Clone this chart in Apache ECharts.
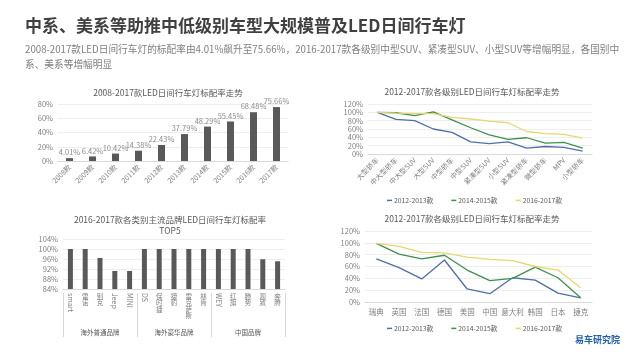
<!DOCTYPE html>
<html><head><meta charset="utf-8">
<script src="https://cdn.jsdelivr.net/npm/echarts@6/dist/echarts.min.js"></script>
<style>html,body{margin:0;padding:0;background:#fff}#c{width:630px;height:354px}</style>
</head><body><div id="c"></div>
<script>
var years1 = ['2008款','2009款','2010款','2011款','2012款','2013款','2014款','2015款','2016款','2017款'];
var rate1 = [4.01, 6.42, 10.42, 14.38, 22.43, 37.79, 48.29, 55.45, 68.48, 75.66];

var classes2 = ['大型轿车','中大型轿车','中大型SUV','大型SUV','中型轿车','中型SUV','紧凑型SUV','小型SUV','紧凑型轿车','微型轿车','MPV','小型轿车'];
var cls1213 = [100, 83, 80, 60, 52, 29, 25, 29, 14, 18, 16, 7];
var cls1415 = [100, 99, 92, 101, 82, 63, 46, 35, 39, 26, 28, 14];
var cls1617 = [100, 98, 97, 97, 88, 84, 79, 75, 54, 49, 47, 38];

var brands3 = ['smart','雷诺','别克','Jeep','MINI','DS','保时捷','捷豹','雷克萨斯','林肯','WEY','红旗','腾势','观致','奔腾'];
var brandRate3 = [100, 100, 96.4, 91.2, 91.2, 100, 100, 100, 100, 100, 100, 100, 100, 95.9, 95.1];
var groups3 = ['海外普通品牌','海外豪华品牌','中国品牌'];

var countries4 = ['瑞典','英国','法国','德国','美国','中国','意大利','韩国','日本','捷克'];
var cty1213 = [73, 58, 39, 71, 22, 14, 41, 37, 15, 7];
var cty1415 = [99, 81, 73, 79, 54, 36, 40, 59, 41, 7];
var cty1617 = [99, 94, 84, 83, 76, 72, 70, 60, 54, 24];

var seriesNames = ['2012-2013款','2014-2015款','2016-2017款'];
var lineColors = ['#4f6fa8','#3d9050','#e6d870'];

var FONT = '"Noto Sans CJK SC","Noto Sans",sans-serif';
var GRAY = '#7f7f7f';
var GRID_LINE = {show:true, lineStyle:{color:'#eeeeee', width:1}};
var isLatin = function(v){ return /^[A-Za-z]+$/.test(v); };

function yAx(idx, min, max, interval){
  return {type:'value', gridIndex:idx, min:min, max:max, interval:interval,
    axisLine:{show:false}, axisTick:{show:false}, splitLine:GRID_LINE,
    axisLabel:{formatter:'{value}%', color:GRAY, fontSize:7.5, margin:5, fontFamily:FONT,
      showMinLabel:true, showMaxLabel:true, hideOverlap:false}};
}
function lineSeries(name, data, xi, yi, ci){
  return {name:name, type:'line', xAxisIndex:xi, yAxisIndex:yi, data:data, symbol:'none',
    lineStyle:{color:lineColors[ci], width:1.3}, itemStyle:{color:lineColors[ci]}};
}
var subTitleStyle = {fontSize:8.5, color:'#595959', fontWeight:'normal', fontFamily:FONT};
var legendStyle = {itemGap:18, itemWidth:5, itemHeight:1.5, icon:'rect', selectedMode:false,
  textStyle:{fontSize:6.8, color:'#595959', fontFamily:FONT, padding:[0,0,0,-3]}};

var chart = echarts.init(document.getElementById('c'), null, {renderer:'canvas'});
chart.setOption({
  backgroundColor:'#fff',
  animation:false,
  textStyle:{fontFamily:FONT},
  title:[
    {text:'中系、美系等助推中低级别车型大规模普及LED日间行车灯', left:20, top:12,
     textStyle:{fontSize:17, fontWeight:'bold', color:'#404040', fontFamily:FONT}},
    {text:'2008-2017款LED日间行车灯的标配率由4.01%飙升至75.66%，2016-2017款各级别中型SUV、紧凑型SUV、小型SUV等增幅明显，各国别中\n系、美系等增幅明显',
     left:20, top:37, textStyle:{fontSize:9.7, color:'#7f7f7f', fontWeight:'normal', lineHeight:15, fontFamily:FONT}},
    {text:'2008-2017款LED日间行车灯标配率走势', left:163, top:84, textAlign:'center', textStyle:subTitleStyle},
    {text:'2012-2017款各级别LED日间行车灯标配率走势', left:467, top:83, textAlign:'center', textStyle:subTitleStyle},
    {text:'2016-2017款各类别主流品牌LED日间行车灯标配率\nTOP5', left:165, top:209, textAlign:'center',
     textStyle:Object.assign({lineHeight:11}, subTitleStyle)},
    {text:'2012-2017款各级别LED日间行车灯标配率走势', left:467, top:210, textAlign:'center', textStyle:subTitleStyle}
  ],
  grid:[
    {left:58, top:104, width:230, height:57},
    {left:368, top:104, width:224, height:50},
    {left:63, top:239, width:222, height:50},
    {left:365, top:231, width:227, height:71}
  ],
  legend:[
    Object.assign({data:seriesNames, top:192, left:382}, legendStyle),
    Object.assign({data:seriesNames, top:320, left:382}, legendStyle)
  ],
  xAxis:[
    {type:'category', gridIndex:0, data:years1, axisTick:{show:false},
     axisLine:{lineStyle:{color:'#d9d9d9'}},
     axisLabel:{rotate:45, color:GRAY, fontSize:7, margin:5, interval:0}},
    {type:'category', gridIndex:1, data:classes2, axisTick:{show:false},
     axisLine:{lineStyle:{color:'#d9d9d9'}},
     axisLabel:{rotate:45, color:GRAY, fontSize:7, margin:5, interval:0}},
    {type:'category', gridIndex:2, data:brands3, position:'bottom', axisTick:{show:false},
     axisLine:{lineStyle:{color:'#d9d9d9'}},
     axisLabel:{rotate:-90, color:GRAY, fontSize:7, margin:4, interval:0,
       formatter:function(v){ return isLatin(v) ? v : ''; }}},
    {type:'category', gridIndex:2, data:brands3, position:'bottom', axisTick:{show:false}, axisLine:{show:false},
     axisLabel:{color:GRAY, fontSize:6.5, margin:4, interval:0, lineHeight:6.5,
       formatter:function(v){ return isLatin(v) ? '' : v.split('').join('\n'); }}},
    {type:'category', gridIndex:2, data:groups3, position:'bottom', offset:4, axisLine:{show:false},
     axisTick:{show:true, length:44, lineStyle:{color:'#d9d9d9'}},
     axisLabel:{color:'#595959', fontSize:6.5, margin:36, interval:0}},
    {type:'category', gridIndex:3, data:countries4, axisTick:{show:false},
     axisLine:{lineStyle:{color:'#d9d9d9'}},
     axisLabel:{color:GRAY, fontSize:7.5, margin:6, interval:0}}
  ],
  yAxis:[
    yAx(0, 0, 80, 20),
    yAx(1, 0, 120, 20),
    yAx(2, 84, 104, 4),
    yAx(3, 0, 120, 20)
  ],
  series:[
    {type:'bar', xAxisIndex:0, yAxisIndex:0, data:rate1, barWidth:7,
     itemStyle:{color:'#595959'},
     label:{show:true, position:'top', distance:2, color:'#8c8c8c', fontSize:7.5,
       formatter:function(p){ return p.value.toFixed(2) + '%'; }}},
    lineSeries(seriesNames[0], cls1213, 1, 1, 0),
    lineSeries(seriesNames[1], cls1415, 1, 1, 1),
    lineSeries(seriesNames[2], cls1617, 1, 1, 2),
    {type:'bar', xAxisIndex:2, yAxisIndex:2, data:brandRate3, barWidth:5,
     itemStyle:{color:'#595959'}},
    lineSeries(seriesNames[0], cty1213, 5, 3, 0),
    lineSeries(seriesNames[1], cty1415, 5, 3, 1),
    lineSeries(seriesNames[2], cty1617, 5, 3, 2)
  ],
  graphic:[
    {type:'text', left:575, top:335, style:{text:'易车研究院', fill:'#1f5ea8', font:'bold 9px "Noto Sans CJK SC"'}}
  ]
});
</script></body></html>
